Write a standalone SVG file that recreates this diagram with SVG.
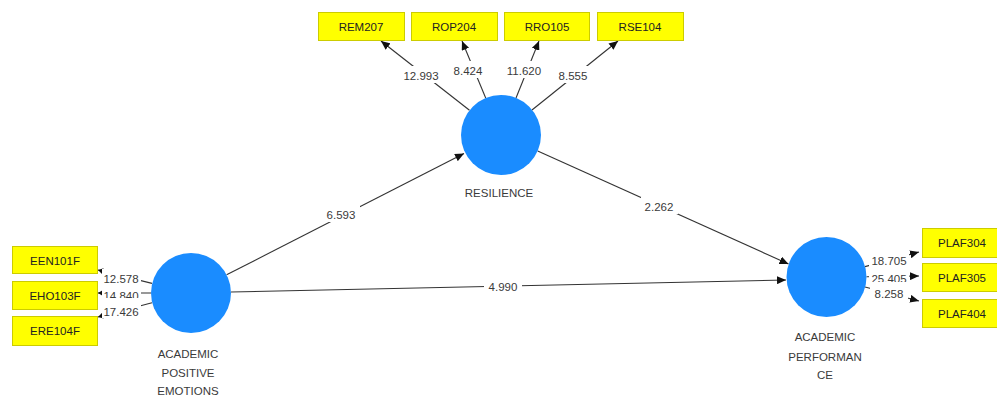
<svg xmlns="http://www.w3.org/2000/svg" width="997" height="397" viewBox="0 0 997 397">
  <style>
    text { font-family: "Liberation Sans", Arial, sans-serif; font-size: 11.5px; fill: #3a3a3a; }
    .ind rect { fill: #ffff00; stroke: #cccc00; stroke-width: 1; }
    .ind text { text-anchor: middle; fill: #222; }
    .lv circle { fill: #1a8cff; }
    .lv text { text-anchor: middle; }
    .edge line { stroke: #333; stroke-width: 1.1; marker-end: url(#arrow); }
    .edge line.short { marker-end: url(#arrow-sm); }
    .lbl rect { fill: #fff; }
    .lbl text { text-anchor: middle; }
  </style>
  <defs>
    <marker id="arrow" markerUnits="userSpaceOnUse" markerWidth="10" markerHeight="8" refX="9" refY="4" orient="auto">
      <path d="M0,0 L9,4 L0,8 z" fill="#111"/>
    </marker>
    <marker id="arrow-sm" markerUnits="userSpaceOnUse" markerWidth="6" markerHeight="6" refX="5" refY="3" orient="auto">
      <path d="M0,0 L5,3 L0,6 z" fill="#111"/>
    </marker>
  </defs>

  <rect width="997" height="397" fill="#fff"/>

  <!-- connectors -->
  <g id="connectors" class="edge">
    <line x1="226.6" y1="274.8" x2="464" y2="153.5"/>
    <line x1="537.7" y1="151" x2="788.5" y2="264"/>
    <line x1="231" y1="292" x2="786" y2="280"/>
    <line x1="469.5" y1="110.3" x2="381" y2="41"/>
    <line x1="485.7" y1="98" x2="462" y2="41"/>
    <line x1="516" y1="98" x2="539" y2="41"/>
    <line x1="532" y1="110" x2="618" y2="41"/>
    <line class="short" x1="152" y1="283.4" x2="98" y2="270"/>
    <line class="short" x1="151" y1="293" x2="98" y2="293"/>
    <line class="short" x1="152" y1="302.7" x2="98" y2="317"/>
    <line x1="865" y1="266.6" x2="919" y2="252"/>
    <line x1="866.5" y1="276.8" x2="919" y2="276"/>
    <line x1="865" y1="287" x2="919" y2="301"/>
  </g>

  <!-- path coefficient labels -->
  <g id="edge-labels" class="lbl">
    <rect x="323" y="205" width="37" height="17"/><text x="341" y="219">6.593</text>
    <rect x="641" y="197" width="37" height="17"/><text x="659" y="211">2.262</text>
    <rect x="484" y="277" width="38" height="17"/><text x="503" y="291">4.990</text>
    <rect x="400" y="66" width="41" height="17"/><text x="421" y="80">12.993</text>
    <rect x="451" y="61" width="35" height="17"/><text x="468" y="75">8.424</text>
    <rect x="503" y="61" width="41" height="17"/><text x="524" y="75">11.620</text>
    <rect x="555" y="66" width="35" height="17"/><text x="573" y="80">8.555</text>
    <rect x="102" y="269" width="39" height="17"/><text x="121" y="283">12.578</text>
    <rect x="102" y="286" width="39" height="17"/><text x="121" y="300">14.840</text>
    <rect x="102" y="298" width="39" height="20"/><text x="121" y="316">17.426</text>
    <rect x="869" y="251" width="40" height="17"/><text x="889" y="265">18.705</text>
    <rect x="869" y="268" width="40" height="17"/><text x="889" y="283">25.405</text>
    <rect x="870" y="282" width="38" height="18"/><text x="889" y="298">8.258</text>
  </g>

  <!-- latent variables -->
  <g id="resilience" class="lv">
    <circle cx="501" cy="135" r="40"/>
    <text x="499" y="197">RESILIENCE</text>
  </g>
  <g id="academic-positive-emotions" class="lv">
    <circle cx="191" cy="293" r="40"/>
    <text x="188" y="358">ACADEMIC</text>
    <text x="188" y="377">POSITIVE</text>
    <text x="188" y="395">EMOTIONS</text>
  </g>
  <g id="academic-performance" class="lv">
    <circle cx="826.5" cy="277" r="40"/>
    <text x="825" y="341">ACADEMIC</text>
    <text x="825" y="361">PERFORMAN</text>
    <text x="825" y="379">CE</text>
  </g>

  <!-- indicators -->
  <g id="REM207" class="ind"><rect x="318.5" y="12.5" width="86" height="28"/><text x="361" y="31">REM207</text></g>
  <g id="ROP204" class="ind"><rect x="411.5" y="12.5" width="86" height="28"/><text x="454" y="31">ROP204</text></g>
  <g id="RRO105" class="ind"><rect x="504.5" y="12.5" width="85" height="28"/><text x="547" y="31">RRO105</text></g>
  <g id="RSE104" class="ind"><rect x="597.5" y="12.5" width="86" height="28"/><text x="640" y="31">RSE104</text></g>
  <g id="EEN101F" class="ind"><rect x="12.5" y="246.5" width="85" height="27"/><text x="55" y="265">EEN101F</text></g>
  <g id="EHO103F" class="ind"><rect x="12.5" y="281.5" width="85" height="28"/><text x="55" y="300">EHO103F</text></g>
  <g id="ERE104F" class="ind"><rect x="12.5" y="316.5" width="85" height="29"/><text x="55" y="335">ERE104F</text></g>
  <g id="PLAF304" class="ind"><rect x="922.5" y="228.5" width="80" height="29"/><text x="962" y="247">PLAF304</text></g>
  <g id="PLAF305" class="ind"><rect x="922.5" y="263.5" width="80" height="28"/><text x="962" y="282">PLAF305</text></g>
  <g id="PLAF404" class="ind"><rect x="922.5" y="299.5" width="80" height="28"/><text x="962" y="318">PLAF404</text></g>
</svg>
